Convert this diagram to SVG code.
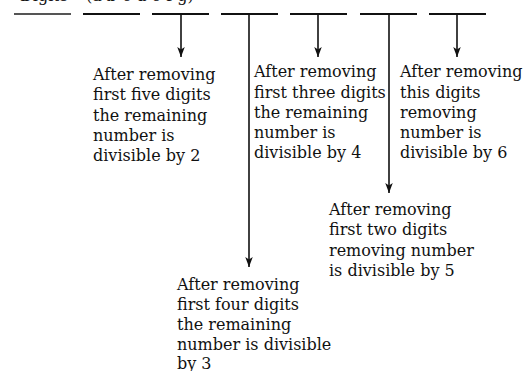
<svg xmlns="http://www.w3.org/2000/svg" width="530" height="371" viewBox="0 0 530 371">
<style>
.t{font-family:"DejaVu Serif","Liberation Serif",serif;font-size:16px;fill:#111;}
.seg{stroke:#111;stroke-width:2;}
.ar{stroke:#111;stroke-width:1.6;fill:none;marker-end:url(#ah);}
</style>
<defs>
<marker id="ah" markerUnits="userSpaceOnUse" markerWidth="10" markerHeight="14" refX="12" refY="4.5" orient="auto" viewBox="0 0 12 9">
<path d="M0,0 L12,4.5 L0,9 L3,4.5 z" fill="#111"/>
</marker>
</defs>
<rect width="530" height="371" fill="#fff"/>
<g id="title">
<text class="t" x="20" y="0.5">Digits <tspan x="86">(a b c d e f g)</tspan></text>
</g>
<g id="blanks">
<line class="seg" x1="14" y1="14" x2="71" y2="14" style="stroke:#555"/>
<line class="seg" x1="83" y1="14" x2="140" y2="14"/>
<line class="seg" x1="152" y1="14" x2="209" y2="14"/>
<line class="seg" x1="221" y1="14" x2="278" y2="14"/>
<line class="seg" x1="290" y1="14" x2="347" y2="14"/>
<line class="seg" x1="360" y1="14" x2="417" y2="14"/>
<line class="seg" x1="429" y1="14" x2="486" y2="14"/>
</g>
<g id="connectors">
<line class="ar" x1="181" y1="14" x2="181" y2="57"/>
<line class="ar" x1="249" y1="14" x2="249" y2="267"/>
<line class="ar" x1="318" y1="14" x2="318" y2="57"/>
<line class="ar" x1="389" y1="14" x2="389" y2="193"/>
<line class="ar" x1="457" y1="14" x2="457" y2="57"/>
</g>
<g id="n2">
<text class="t" x="93" y="80">After removing</text>
<text class="t" x="93" y="100">first five digits</text>
<text class="t" x="93" y="120.5">the remaining</text>
<text class="t" x="93" y="141">number is</text>
<text class="t" x="93" y="161">divisible by 2</text>
</g>
<g id="n4">
<text class="t" x="254" y="77">After removing</text>
<text class="t" x="254" y="97.5">first three digits</text>
<text class="t" x="254" y="118">the remaining</text>
<text class="t" x="254" y="138">number is</text>
<text class="t" x="254" y="158">divisible by 4</text>
</g>
<g id="n6">
<text class="t" x="400" y="77">After removing</text>
<text class="t" x="400" y="97.5">this digits</text>
<text class="t" x="400" y="118">removing</text>
<text class="t" x="400" y="138">number is</text>
<text class="t" x="400" y="158">divisible by 6</text>
</g>
<g id="n5">
<text class="t" x="329" y="215">After removing</text>
<text class="t" x="329" y="235">first two digits</text>
<text class="t" x="329" y="256">removing number</text>
<text class="t" x="329" y="276">is divisible by 5</text>
</g>
<g id="n3">
<text class="t" x="177" y="290">After removing</text>
<text class="t" x="177" y="310">first four digits</text>
<text class="t" x="177" y="330">the remaining</text>
<text class="t" x="177" y="350">number is divisible</text>
<text class="t" x="177" y="369">by 3</text>
</g>
</svg>
